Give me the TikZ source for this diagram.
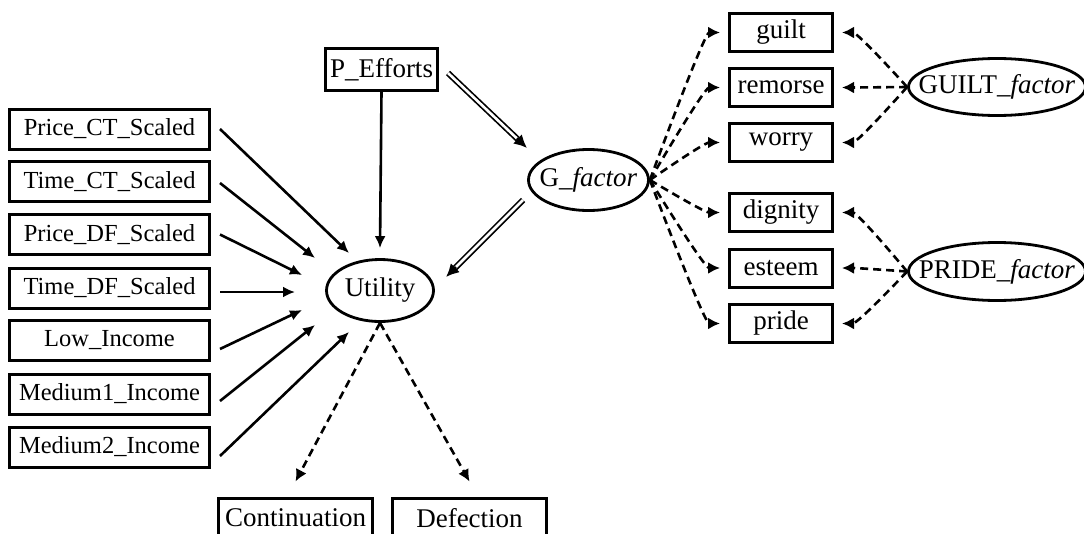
\documentclass[tikz,border=0pt]{standalone}
\usepackage{fontspec}
\setmainfont{Liberation Serif}
\usetikzlibrary{shapes.geometric,arrows.meta,calc}
\begin{document}
\begin{tikzpicture}[x=1pt,y=-1pt,
  txt/.style={font=\fontsize{27}{30}\selectfont},
  lbox/.style={draw, line width=3pt, inner sep=0pt, minimum width=200pt, minimum height=40pt, font=\fontsize{24.5}{28}\selectfont},
  rbox/.style={draw, line width=3pt, inner sep=0pt, minimum width=103pt, minimum height=38pt, txt},
  bbox/.style={draw, line width=3pt, inner sep=0pt, minimum width=154pt, minimum height=40pt, txt},
  lat/.style={draw, ellipse, line width=2.8pt, inner sep=0pt, txt},
  arr/.style={line width=2.6pt, -{Latex[length=12pt,width=11pt]}},
  dtip/.style={line width=2.6pt, -{Latex[length=13pt,width=13pt]}},
  darr/.style={line width=2.6pt, dash pattern=on 8pt off 5pt, -{Latex[length=12pt,width=12pt]}},
  dbl/.style={double, double distance=2.6pt, line width=1.7pt},
]
\useasboundingbox (0,0) rectangle (1084,533);

% left observed variables
\node[lbox] (pct) at (109.5,129)   {Price\_CT\_Scaled};
\node[lbox] (tct) at (109.5,181.5) {Time\_CT\_Scaled};
\node[lbox] (pdf) at (109.5,234.5) {Price\_DF\_Scaled};
\node[lbox] (tdf) at (109.5,288)   {Time\_DF\_Scaled};
\node[lbox] (low) at (109.5,340.5) {Low\_Income};
\node[lbox] (mone) at (109.5,394)  {Medium1\_Income};
\node[lbox] (mtwo) at (109.5,447)  {Medium2\_Income};

% centre
\node[rbox, minimum width=112pt, minimum height=42pt] (pe) at (381.5,69.5) {P\_Efforts};
\node[lat, minimum width=107pt, minimum height=62pt] (u) at (380,290.5) {\makebox[0pt]{Utility}};
\node[lat, minimum width=120pt, minimum height=61pt] (g) at (588.5,180) {\makebox[0pt]{G\_\textit{factor}}};

% right indicators
\node[rbox] (guilt)   at (781,32.5)  {guilt};
\node[rbox] (remorse) at (781,87.5)  {remorse};
\node[rbox] (worry)   at (781,142.5) {worry};
\node[rbox] (dignity) at (781,212.5) {dignity};
\node[rbox] (esteem)  at (781,268)   {esteem};
\node[rbox] (pride)   at (781,323.5) {pride};

\node[lat, minimum width=177pt, minimum height=57pt] (gf) at (997,87) {\makebox[0pt]{GUILT\_\textit{factor}}};
\node[lat, minimum width=177pt, minimum height=58pt] (pf) at (997,271.5) {\makebox[0pt]{PRIDE\_\textit{factor}}};

% outcomes
\node[bbox] (cont) at (295.5,518) {Continuation};
\node[bbox] (defe) at (469.5,518) {Defection};

% arrow ends near Utility
\coordinate (e1) at (349,253);
\coordinate (e2) at (315,258);
\coordinate (e3) at (302,275);
\coordinate (e4) at (295,292);
\coordinate (e5) at (302,310);
\coordinate (e6) at (315,325);
\coordinate (e7) at (349,332);

\draw[arr] ([xshift=9pt]pct.east) -- (e1);
\draw[arr] ([xshift=9pt,yshift=-1.5pt]tct.east) -- (e2);
\draw[arr] ([xshift=9pt]pdf.east) -- (e3);
\draw[arr] ([xshift=9pt,yshift=-4pt]tdf.east) -- (e4);
\draw[arr] ([xshift=9pt,yshift=-8.5pt]low.east) -- (e5);
\draw[arr] ([xshift=9pt,yshift=-7pt]mone.east) -- (e6);
\draw[arr] ([xshift=9pt,yshift=-9pt]mtwo.east) -- (e7);

\draw[arr] (pe.south) -- ([yshift=10pt]u.north);

% double arrows
\coordinate (d1s) at (448,73);
\coordinate (d1e) at (527,148);
\coordinate (d2s) at (523,200);
\coordinate (d2e) at (446,277);
\draw[dbl] (d1s) -- ($(d1e)!10pt!(d1s)$);
\draw[dtip] ($(d1e)!14pt!(d1s)$) -- (d1e);
\draw[dbl] (d2s) -- ($(d2e)!10pt!(d2s)$);
\draw[dtip] ($(d2e)!14pt!(d2s)$) -- (d2e);

% G_factor loadings
\foreach \b in {guilt,remorse,worry,dignity,esteem,pride}
  \draw[darr] (g.east) .. controls (g.east) and ([xshift=-24pt]\b.west) .. ([xshift=-8pt]\b.west);

% specific factors
\foreach \b in {guilt,remorse,worry}
  \draw[darr] (gf.west) .. controls (gf.west) and ([xshift=24pt]\b.east) .. ([xshift=8pt]\b.east);
\foreach \b in {dignity,esteem,pride}
  \draw[darr] (pf.west) .. controls (pf.west) and ([xshift=24pt]\b.east) .. ([xshift=8pt]\b.east);

% outcomes
\draw[darr] (u.south) -- ([yshift=15pt]cont.north);
\draw[darr] (u.south) -- ([yshift=15pt]defe.north);
\end{tikzpicture}
\end{document}
